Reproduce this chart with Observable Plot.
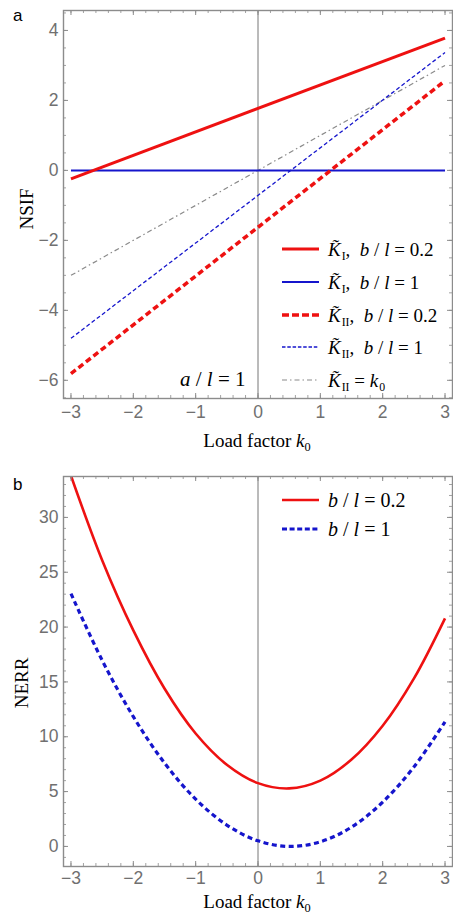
<!DOCTYPE html>
<html><head><meta charset="utf-8">
<script src="https://cdn.jsdelivr.net/npm/d3@7"></script>
<script src="https://cdn.jsdelivr.net/npm/@observablehq/plot@0.6"></script>
<style>
body{margin:0;background:#fff;}
#wrap{position:relative;width:453px;height:914px;overflow:hidden;}
.panel{position:absolute;left:0;width:453px;}
.ov{position:absolute;font-family:"Liberation Serif","Times New Roman",serif;color:#000;white-space:nowrap;line-height:1;}
.plabel{position:absolute;font-family:"Liberation Sans",Arial,sans-serif;font-size:17px;color:#000;line-height:1;}
.leg{position:absolute;left:282px;font-family:"Liberation Serif",serif;font-size:19px;line-height:1;}
.row{position:absolute;left:0;display:flex;align-items:center;height:20px;white-space:nowrap;}
.row svg{margin-right:9px;}
.kt{font-style:italic;}
.sub{font-size:0.62em;position:relative;top:0.38em;margin-left:1px;}
i{font-style:italic;}
.ylab{position:absolute;font-family:"Liberation Serif",serif;font-size:19px;transform:translate(-50%,-50%) rotate(-90deg);white-space:nowrap;line-height:1;}
.xlab{position:absolute;font-family:"Liberation Serif",serif;font-size:19px;transform:translate(-50%,-50%);white-space:nowrap;line-height:1;}
</style></head><body>
<div id="wrap">
  <div id="pa" class="panel" style="top:0"></div>
  <div id="pb" class="panel" style="top:455px"></div>
</div>
<script>
// ---------- data ----------
const k0Ends = [-3, 3];
const kI_b02 = [-0.24, 3.78];    // K_I, b/l = 0.2
const kI_b1 = [0, 0];            // K_I, b/l = 1
const kII_b02 = [-5.81, 2.56];   // K_II, b/l = 0.2
const kII_b1 = [-4.80, 3.37];    // K_II, b/l = 1
const kII_k0 = [-3, 3];          // K_II = k0

const k0Grid = [-3, -2.5, -2, -1.5, -1, -0.5, 0, 0.5, 1, 1.5, 2, 2.5, 3];
const nerr_b02 = [33.8, 26.1, 19.7, 14.4, 10.3, 7.45, 5.77, 5.29, 6.0, 7.92, 11.0, 15.3, 20.8];
const nerr_b1 = [23.05, 16.97, 11.83, 7.61, 4.31, 1.95, 0.51, 0.0, 0.42, 1.76, 4.04, 7.24, 11.36];

const xTicks = [-3, -2, -1, 0, 1, 2, 3];
const yTicksA = [-6, -4, -2, 0, 2, 4];
const yTicksB = [0, 5, 10, 15, 20, 25, 30];

const legendA = [
  {sub: "I", txt: "b / l = 0.2", color: "#ee1111", w: 3.2, dash: null},
  {sub: "I", txt: "b / l = 1", color: "#1515cc", w: 2, dash: null},
  {sub: "II", txt: "b / l = 0.2", color: "#ee1111", w: 3.6, dash: "7,3"},
  {sub: "II", txt: "b / l = 1", color: "#1515cc", w: 1.3, dash: "3.5,1.8"},
  {sub: "II", txt: "= k0", color: "#8a8a8a", w: 1.2, dash: "5,3,1.5,3"}
];
const legendB = [
  {txt: "b / l = 0.2", color: "#ee1111", w: 2.6, dash: null},
  {txt: "b / l = 1", color: "#1515cc", w: 3.2, dash: "5,2.6"}
];

// ---------- helpers ----------
const RED = "#ee1111", BLUE = "#1515cc", GRAY = "#8a8a8a", FRAME = "#8c8c8c";
function range(a, b, s) { const o = []; for (let v = a; v <= b + 1e-9; v += s) o.push(+v.toFixed(6)); return o; }
const fmt = d => d < 0 ? "\u2212" + (-d) : String(d);

function frameMarks(xMinor, yMinor, yTicks, fh, fw, pad) {
  return [
    Plot.frame({stroke: FRAME, strokeWidth: 1.4}),
    Plot.tickX(xMinor, {x: d => d, stroke: FRAME, strokeWidth: 0.8, insetTop: fh - 3}),
    Plot.tickX(xMinor, {x: d => d, stroke: FRAME, strokeWidth: 0.8, insetBottom: fh - 3}),
    Plot.tickX(xTicks, {x: d => d, stroke: FRAME, strokeWidth: 1, insetTop: fh - 5}),
    Plot.tickX(xTicks, {x: d => d, stroke: FRAME, strokeWidth: 1, insetBottom: fh - 5}),
    Plot.tickY(yMinor, {y: d => d, stroke: FRAME, strokeWidth: 0.8, insetRight: fw - 3}),
    Plot.tickY(yMinor, {y: d => d, stroke: FRAME, strokeWidth: 0.8, insetLeft: fw - 3}),
    Plot.tickY(yTicks, {y: d => d, stroke: FRAME, strokeWidth: 1, insetRight: fw - 5}),
    Plot.tickY(yTicks, {y: d => d, stroke: FRAME, strokeWidth: 1, insetLeft: fw - 5}),
    Plot.axisX(xTicks, {anchor: "bottom", tickSize: 0, tickPadding: pad, label: null, color: "#707070",
      fontSize: 17.5, fontFamily: "Liberation Sans, Arial, sans-serif", tickFormat: fmt}),
    Plot.axisY(yTicks, {anchor: "left", tickSize: 0, tickPadding: 5, label: null, color: "#707070",
      fontSize: 17.5, fontFamily: "Liberation Sans, Arial, sans-serif", tickFormat: fmt})
  ];
}
const lineOpts = (o) => Object.assign({x: "x", y: "y", strokeLinecap: "butt", strokeLinejoin: "miter", clip: true}, o);

// ---------- panel a ----------
const seg = (ys) => k0Ends.map((x, i) => ({x, y: ys[i]}));
const W = 453;
const HA = 455, mtA = 10, mbA = 57, mlA = 63, mrA = 1;
const fhA = HA - mtA - mbA, fw = W - mlA - mrA;
const pa = Plot.plot({
  width: W, height: HA, marginTop: mtA, marginBottom: mbA, marginLeft: mlA, marginRight: mrA,
  x: {domain: [-3.12, 3.12], axis: null},
  y: {domain: [-6.52, 4.57], axis: null},
  style: {background: "white"},
  marks: [
    Plot.ruleX([0], {stroke: "#777", strokeWidth: 1}),
    Plot.line(seg(kII_k0), lineOpts({stroke: GRAY, strokeWidth: 1.2, strokeDasharray: "5,3,1.5,3"})),
    Plot.line(seg(kI_b1), lineOpts({stroke: BLUE, strokeWidth: 2})),
    Plot.line(seg(kI_b02), lineOpts({stroke: RED, strokeWidth: 3})),
    Plot.line(seg(kII_b02), lineOpts({stroke: RED, strokeWidth: 3.5, strokeDasharray: "6,3.5"})),
    Plot.line(seg(kII_b1), lineOpts({stroke: BLUE, strokeWidth: 1.3, strokeDasharray: "4,2.5"})),
    ...frameMarks(range(-3, 3, 0.2), range(-6.5, 4.5, 0.5), yTicksA, fhA, fw, 7)
  ]
});
document.getElementById("pa").appendChild(pa);

// ---------- panel b ----------
const HB = 459, mtB = 21, mbB = 48, mlB = 63, mrB = 1;
const fhB = HB - mtB - mbB;
const curve = (ys) => k0Grid.map((x, i) => ({x, y: ys[i]}));
const pb = Plot.plot({
  width: W, height: HB, marginTop: mtB, marginBottom: mbB, marginLeft: mlB, marginRight: mrB,
  x: {domain: [-3.12, 3.12], axis: null},
  y: {domain: [-1.83, 33.73], axis: null},
  style: {background: "white"},
  marks: [
    Plot.ruleX([0], {stroke: "#777", strokeWidth: 1}),
    Plot.line(curve(nerr_b02), lineOpts({stroke: RED, strokeWidth: 2.6, curve: "catmull-rom"})),
    Plot.line(curve(nerr_b1), lineOpts({stroke: BLUE, strokeWidth: 3.2, strokeDasharray: "5,3.5", curve: "catmull-rom"})),
    ...frameMarks(range(-3, 3, 0.2), range(-1, 33, 1), yTicksB, fhB, fw, 5)
  ]
});
document.getElementById("pb").appendChild(pb);

// ---------- overlays: labels & legends ----------
const wrap = document.getElementById("wrap");
function el(html, cls, style) { const d = document.createElement("div"); d.className = cls; d.innerHTML = html; Object.assign(d.style, style); wrap.appendChild(d); return d; }
function swatch(s) {
  return `<svg width="37" height="8"><line x1="0" y1="4" x2="37" y2="4" stroke="${s.color}" stroke-width="${s.w}" ${s.dash ? `stroke-dasharray="${s.dash}"` : ""}/></svg>`;
}
const Kt = (sub) => `<span class="kt">K\u0303</span><span class="sub">${sub}</span>`;
function fmtTxt(t) {
  return t.replace("b", "<i>b</i>").replace(" l ", " <i>l</i> ");
}

el("a", "plabel", {left: "13px", top: "7px"});
el("b", "plabel", {left: "13px", top: "476px"});
el("NSIF", "ylab", {left: "26px", top: "209px"});
el("NERR", "ylab", {left: "21px", top: "683px"});
el("Load factor <i>k</i><span style='font-size:0.65em;position:relative;top:0.3em'>0</span>", "xlab", {left: "257px", top: "440px"});
el("Load factor <i>k</i><span style='font-size:0.65em;position:relative;top:0.3em'>0</span>", "xlab", {left: "257px", top: "901px"});
el("<i>a</i> / <i>l</i> = 1", "ov", {left: "180px", top: "369px", fontSize: "21px"});

const legA = el("", "leg", {top: "0px", left: "282px"});
const rowYA = [249, 282, 315, 347, 380];
legendA.forEach((s, i) => {
  const r = document.createElement("div");
  r.className = "row";
  r.style.top = (rowYA[i] - 10) + "px";
  let label;
  if (s.txt === "= k0") label = `${Kt(s.sub)}&nbsp;= <i>k</i><span class="sub">0</span>`;
  else label = `${Kt(s.sub)},&nbsp; ${fmtTxt(s.txt)}`;
  r.innerHTML = swatch(s) + `<span>${label}</span>`;
  legA.appendChild(r);
});
const legB = el("", "leg", {top: "0px", left: "282px"});
const rowYB = [500, 529];
legendB.forEach((s, i) => {
  const r = document.createElement("div");
  r.className = "row";
  r.style.top = (rowYB[i] - 10) + "px";
  r.innerHTML = swatch(s) + `<span style="font-size:20px">${fmtTxt(s.txt)}</span>`;
  legB.appendChild(r);
});
</script>
</body></html>
